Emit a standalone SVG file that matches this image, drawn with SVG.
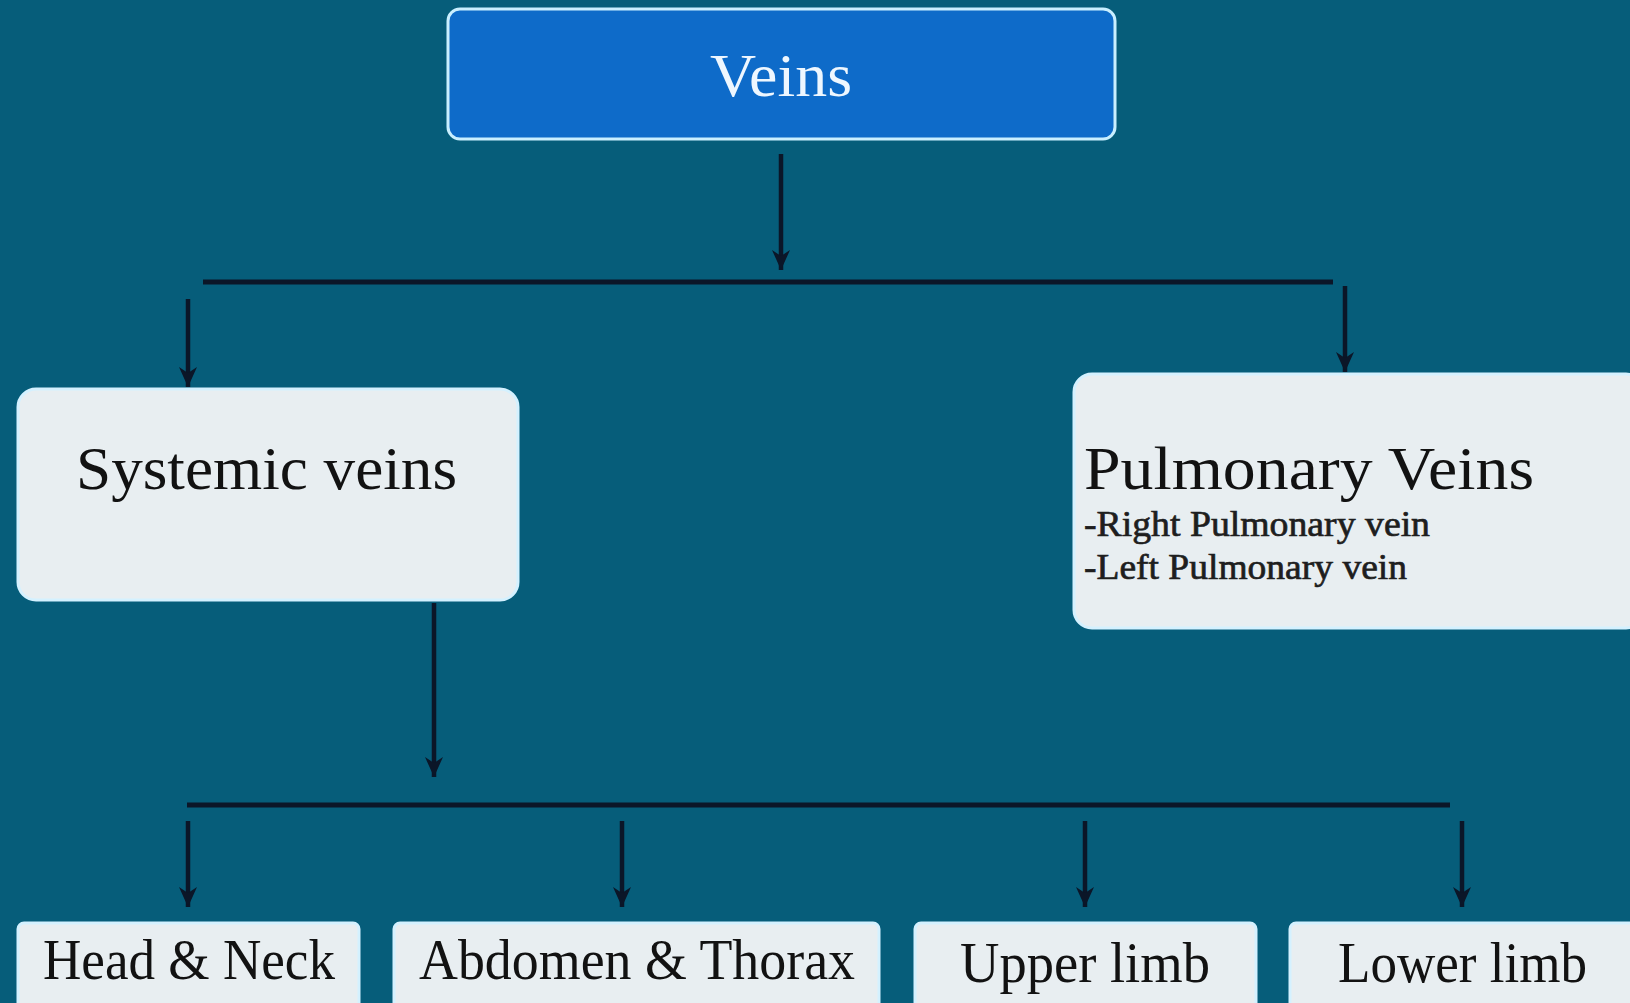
<svg xmlns="http://www.w3.org/2000/svg" width="1630" height="1003" viewBox="0 0 1630 1003">
<defs>
<style>
.light{fill:#e8eef1;stroke:#d4f1ff;stroke-width:3}
.t{font-family:"Liberation Serif","Times New Roman",serif;fill:#121212}
.sub{fill:#1e1e1e;stroke:#1e1e1e;stroke-width:0.7}
.line{stroke:#0b1628;stroke-width:5;fill:none}
.arr{stroke:#0b1628;stroke-width:4.5;fill:none;marker-end:url(#ah)}
</style>
<marker id="ah" markerUnits="userSpaceOnUse" markerWidth="22" markerHeight="20" refX="20" refY="10" orient="auto" viewBox="0 0 22 20">
<path d="M0,1 L20,10 L0,19 L6,10 Z" fill="#0b1628"/>
</marker>
</defs>
<rect width="1630" height="1003" fill="#065d7a"/>

<g id="connectors">
<line class="arr" x1="781" y1="154" x2="781" y2="270"/>
<line class="line" x1="203" y1="282" x2="1333" y2="282"/>
<line class="arr" x1="188" y1="299" x2="188" y2="387"/>
<line class="arr" x1="1345" y1="286" x2="1345" y2="372"/>
<line class="arr" x1="434" y1="603" x2="434" y2="777"/>
<line class="line" x1="187" y1="805" x2="1450" y2="805"/>
<line class="arr" x1="188" y1="821" x2="188" y2="907"/>
<line class="arr" x1="622" y1="821" x2="622" y2="907"/>
<line class="arr" x1="1085" y1="821" x2="1085" y2="907"/>
<line class="arr" x1="1462" y1="821" x2="1462" y2="907"/>
</g>

<g id="veins">
<rect x="448" y="9" width="667" height="130" rx="12" fill="#0e6bc9" stroke="#c9efff" stroke-width="3"/>
<text class="t" x="781" y="96" text-anchor="middle" font-size="62" style="fill:#eef7ff" textLength="142" lengthAdjust="spacingAndGlyphs">Veins</text>
</g>

<g id="systemic">
<rect class="light" x="18" y="389" width="500" height="211" rx="18"/>
<text class="t" x="76" y="489" font-size="62" textLength="381" lengthAdjust="spacingAndGlyphs">Systemic veins</text>
</g>

<g id="pulmonary">
<rect class="light" x="1074" y="374" width="570" height="254" rx="18"/>
<text class="t" x="1084" y="489" font-size="62" textLength="450" lengthAdjust="spacingAndGlyphs">Pulmonary Veins</text>
<text class="t sub" x="1084" y="536" font-size="36" textLength="346" lengthAdjust="spacingAndGlyphs">-Right Pulmonary vein</text>
<text class="t sub" x="1084" y="579" font-size="36" textLength="323" lengthAdjust="spacingAndGlyphs">-Left Pulmonary vein</text>
</g>

<g id="head-neck">
<rect class="light" x="18" y="923" width="341" height="100" rx="6"/>
<text class="t" x="43" y="979" font-size="58" textLength="292" lengthAdjust="spacingAndGlyphs">Head &amp; Neck</text>
</g>

<g id="abdomen-thorax">
<rect class="light" x="394" y="923" width="485" height="100" rx="6"/>
<text class="t" x="419" y="979" font-size="58" textLength="436" lengthAdjust="spacingAndGlyphs">Abdomen &amp; Thorax</text>
</g>

<g id="upper-limb">
<rect class="light" x="915" y="923" width="341" height="100" rx="6"/>
<text class="t" x="960" y="982" font-size="58" textLength="250" lengthAdjust="spacingAndGlyphs">Upper limb</text>
</g>

<g id="lower-limb">
<rect class="light" x="1290" y="923" width="360" height="100" rx="6"/>
<text class="t" x="1338" y="982" font-size="58" textLength="249" lengthAdjust="spacingAndGlyphs">Lower limb</text>
</g>
</svg>
